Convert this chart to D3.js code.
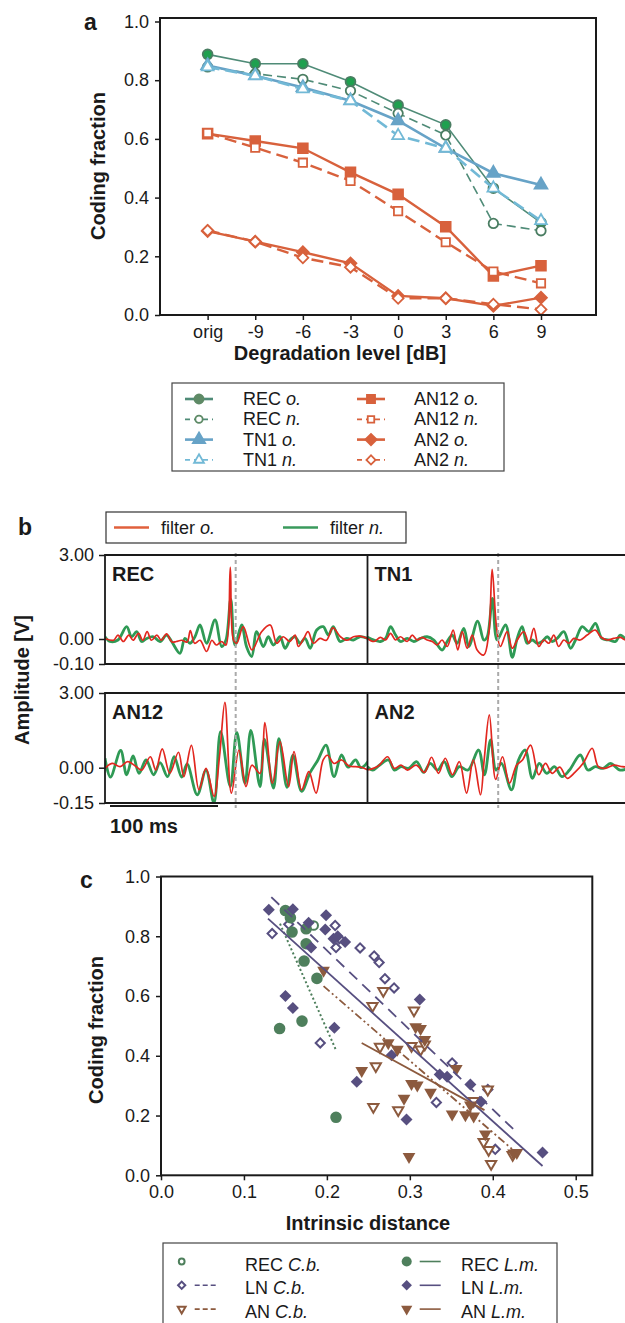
<!DOCTYPE html>
<html>
<head>
<meta charset="utf-8">
<script src="https://cdnjs.cloudflare.com/ajax/libs/d3/7.8.5/d3.min.js"></script>
<style>
  body { margin: 0; background: #fff; }
  svg { display: block; font-family: "Liberation Sans", Arial, sans-serif; }
  .axis text { font-size: 18px; fill: #1a1a1a; }
  .axis line { stroke: #1a1a1a; stroke-width: 1.5; }
  .axis path { display: none; }
  .lbl { font-weight: bold; fill: #1a1a1a; }
</style>
</head>
<body>
<svg id="fig" width="625" height="1323"></svg>
<script>
//---------------- data: panel a (coding fraction vs degradation level)
var levels = ['orig', '-9', '-6', '-3', '0', '3', '6', '9'];
var recOrig  = [0.888, 0.856, 0.856, 0.795, 0.715, 0.648, 0.432, 0.315];
var recNew   = [0.845, 0.822, 0.803, 0.764, 0.687, 0.613, 0.312, 0.287];
var tn1Orig  = [0.850, 0.815, 0.775, 0.730, 0.662, 0.568, 0.483, 0.443];
var tn1New   = [0.845, 0.815, 0.770, 0.730, 0.611, 0.568, 0.432, 0.321];
var an12Orig = [0.618, 0.593, 0.568, 0.486, 0.411, 0.301, 0.133, 0.168];
var an12New  = [0.620, 0.570, 0.519, 0.457, 0.354, 0.248, 0.148, 0.108];
var an2Orig  = [0.286, 0.250, 0.214, 0.176, 0.065, 0.057, 0.031, 0.059];
var an2New   = [0.288, 0.250, 0.195, 0.163, 0.057, 0.057, 0.037, 0.019];

//---------------- data: panel b (filters, [time ms, amplitude V])
var recFiltO = [[0,0.02],[8,-0.005],[12,0.14],[17,-0.01],[22,0.14],[26,-0.005],[31,0.2],[35,-0.005],[39,0.26],[43,-0.005],[48,0.14],[52,-0.005],[57,0.18],[62,-0.012],[66,-0.01],[71,-0.005],[76,-0.012],[79,0.3],[83,-0.017],[88,-0.005],[94,-0.05],[99,-0.005],[103,-0.024],[108,-0.01],[112,-0.024],[116,2.56],[119,-0.005],[122,-0.017],[128,0.44],[136,-0.044],[145,0.26],[153,0.5],[159,-0.017],[165,0.08],[171,-0.01],[176,0.14],[179,-0.03],[184,0.02],[188,0.26],[193,-0.017],[199,0.02],[205,-0.005],[211,0.4],[218,0.08],[224,-0.005],[230,0.08],[236,0.1],[243,0.02]];
var recFiltN = [[0,0.08],[4.6,-0.01],[12,-0.004],[20,0.44],[24.7,0.08],[29.3,0.26],[34,-0.01],[38.6,0.02],[44.8,0.08],[51,-0.01],[57,0.14],[61.7,-0.01],[69.4,-0.057],[74,0.02],[78.7,-0.017],[83.3,0.08],[88,0.5],[94,-0.017],[101.9,0.68],[108,-0.03],[112,-0.004],[116.4,1.42],[120.4,-0.024],[126.5,0.5],[131,-0.03],[135.8,-0.07],[140.4,0.26],[146.6,-0.03],[151.2,0.08],[155.9,-0.024],[162,0.08],[166.7,-0.037],[171.3,-0.004],[176,0.08],[180.6,-0.017],[185.2,0.02],[190,-0.037],[196,0.32],[202,0.44],[206.8,0.14],[211.4,0.44],[217.6,-0.01],[223.8,0.02],[230,-0.004],[236,0.08],[243.5,0.02]];
var tn1FiltO = [[0,0.02],[6,-0.01],[12,0.06],[16.7,-0.004],[21.3,0.2],[26,-0.004],[30.6,0.08],[36.7,-0.01],[41.4,0.14],[46,-0.004],[50.6,0.06],[55.2,-0.004],[60,-0.01],[64.5,-0.024],[69,-0.004],[73.8,-0.03],[79.3,0.32],[83.6,-0.044],[87.7,0.26],[92.3,-0.037],[97,0.14],[101.5,-0.044],[107.7,-0.064],[112.3,0.2],[115.4,2.49],[119.4,0.44],[123,-0.03],[129.3,0.26],[134,-0.037],[138.6,-0.004],[144.8,0.26],[149.4,-0.017],[154,0.38],[158.6,-0.03],[163.3,-0.004],[167.9,-0.017],[172.5,0.14],[177,-0.03],[181.8,-0.004],[186.4,-0.017],[191,0.02],[197,-0.004],[203.4,0.14],[211,0.32],[215.7,0.08],[222,-0.004],[228,0.02],[234,0.06],[239,-0.004],[243.5,0.02]];
var tn1FiltN = [[0,0.06],[6,-0.004],[12,-0.01],[16.7,0.02],[21.3,0.44],[26,0.14],[30.6,-0.01],[36.7,0.02],[42.9,-0.01],[49,0.02],[55.2,0.08],[61.4,-0.004],[69,-0.044],[73.8,-0.01],[78.4,0.14],[83,-0.017],[89.2,0.38],[93.8,-0.03],[102,0.64],[107.7,-0.004],[110.8,0.08],[115.7,1.45],[120,-0.004],[127.8,0.5],[134,-0.073],[138.6,0.02],[143.2,0.44],[147.8,-0.017],[152.5,-0.004],[157,-0.017],[161.7,-0.01],[166.4,0.08],[171,-0.01],[175.6,0.02],[181.8,0.26],[188,-0.037],[192.6,-0.004],[198.8,0.44],[205,0.26],[211,0.56],[217,0.02],[223.5,-0.004],[229.6,-0.01],[234,0.14],[239,0.02],[243.5,0.02]];
var an12FiltO = [[0,-0.003],[6.5,0.17],[14,0.04],[21,0.24],[29,0.04],[34,-0.01],[42,0.44],[47,-0.01],[53,0.76],[60,-0.024],[68,0.62],[73,-0.038],[80,0.9],[87,-0.094],[93.5,-0.003],[101,-0.122],[106,0.44],[111,2.62],[117,-0.108],[124,0.71],[130.5,-0.08],[136,0.1],[143.5,-0.024],[148,1.81],[155,-0.066],[162,1.05],[170,-0.08],[175,0.65],[182,-0.094],[188.7,-0.017],[195.4,-0.108],[202,0.31],[206,0.5],[212,0.17],[219,0.31],[226,0.07],[232,0.04],[238,0.01],[243.5,-0.01]];
var an12FiltN = [[0,0.38],[5,-0.04],[14.5,0.69],[20,-0.03],[26,0.47],[31.5,-0.024],[38,0.31],[45,-0.03],[51,0.2],[58,-0.038],[64,0.44],[71,-0.04],[76,0.15],[85.4,-0.115],[93.5,-0.01],[100.9,-0.15],[107,1.45],[116,-0.08],[122,1.42],[129.6,-0.066],[135,1.5],[143.5,-0.08],[147.6,1.14],[156,-0.087],[161,1.17],[168.5,-0.083],[174,0.5],[182,-0.1],[190,-0.02],[197,0.3],[204.6,0.91],[212,-0.038],[219,0.51],[225,0.02],[232,0.31],[237,0.0],[243.5,0.24]];
var an2FiltO = [[0,-0.01],[10,0.07],[18.6,0.44],[24.8,-0.003],[31,0.1],[37,-0.01],[45,0.1],[52.8,-0.02],[59.3,0.42],[65.7,-0.024],[72,0.38],[78.7,-0.03],[85,0.24],[91.7,-0.108],[98,0.31],[104.6,-0.115],[108,0.3],[112.8,2.12],[118.7,-0.05],[125,0.44],[131.4,-0.066],[138,0.1],[143.5,0.31],[151,0.91],[158.5,-0.03],[164.8,0.17],[171,-0.024],[178,0.02],[185,-0.045],[192,-0.02],[200,0.2],[208,0.78],[213.7,0.04],[220,-0.003],[228,0.1],[236,0.04],[243.5,0.02]];
var an2FiltN = [[0,0.04],[5,-0.01],[11,0.1],[19.4,0.31],[25,-0.01],[31,0.04],[38,-0.003],[45.4,0.24],[52,-0.02],[58,0.17],[65,-0.01],[71,0.24],[78,-0.038],[85,0.04],[93,-0.01],[102.8,0.71],[108.3,-0.03],[114,1.12],[119,-0.01],[124,0.17],[133.3,-0.094],[139.8,0.31],[146,0.71],[152.7,-0.045],[159,0.17],[166,-0.024],[173,0.04],[180,-0.038],[187,-0.01],[197,0.51],[204,-0.01],[211,0.04],[218,-0.003],[225,0.17],[234,-0.01],[243.5,0.02]];
var spikeTime = 121;   //dashed marker, ms from panel start

//---------------- data: panel c ([intrinsic distance, coding fraction])
var recLm = [[0.150,0.886],[0.156,0.862],[0.158,0.814],[0.175,0.825],[0.175,0.775],[0.1725,0.717],[0.188,0.659],[0.143,0.491],[0.170,0.516],[0.211,0.194]];
var recCb = [[0.184,0.836]];
var lnLm = [[0.130,0.889],[0.159,0.890],[0.178,0.845],[0.181,0.762],[0.199,0.870],[0.198,0.823],[0.208,0.792],[0.213,0.800],[0.222,0.781],[0.150,0.600],[0.159,0.560],[0.209,0.494],[0.236,0.313],[0.312,0.588],[0.278,0.402],[0.296,0.187],[0.336,0.337],[0.345,0.330],[0.373,0.304],[0.386,0.246],[0.460,0.076]];
var lnCb = [[0.134,0.809],[0.154,0.840],[0.192,0.443],[0.210,0.836],[0.215,0.792],[0.211,0.762],[0.240,0.761],[0.257,0.734],[0.263,0.712],[0.270,0.658],[0.281,0.627],[0.351,0.376],[0.332,0.244],[0.394,0.287],[0.403,0.087]];
var anLm = [[0.196,0.686],[0.242,0.350],[0.274,0.443],[0.285,0.421],[0.307,0.497],[0.313,0.491],[0.318,0.454],[0.302,0.307],[0.309,0.302],[0.325,0.277],[0.293,0.257],[0.351,0.205],[0.367,0.202],[0.377,0.198],[0.356,0.357],[0.373,0.235],[0.391,0.138],[0.425,0.074],[0.429,0.076],[0.299,0.062]];
var anCb = [[0.268,0.617],[0.255,0.567],[0.305,0.552],[0.264,0.430],[0.302,0.433],[0.313,0.421],[0.318,0.438],[0.259,0.365],[0.256,0.229],[0.286,0.218],[0.377,0.249],[0.394,0.287],[0.389,0.112],[0.395,0.085],[0.398,0.038],[0.424,0.068]];
//regression lines, two end points each
var fitRecLm = [[0.1435,0.842],[0.211,0.419]];
var fitLnLm  = [[0.129,0.859],[0.460,0.031]];
var fitLnCb  = [[0.133,0.931],[0.425,0.154]];
var fitAnLm  = [[0.242,0.443],[0.390,0.218]];
var fitAnCb  = [[0.196,0.633],[0.429,0.074]];

var svg = d3.select('#fig');
var INK = '#1a1a1a';

function symPath(type, size) {
    var t = {circle: d3.symbolCircle, square: d3.symbolSquare, triangle: d3.symbolTriangle,
             diamond: d3.symbolSquare, tridown: d3.symbolTriangle}[type];
    return d3.symbol().type(t).size(size)();
}
function symRot(type) {
    if (type === 'diamond') return ' rotate(45)';
    if (type === 'tridown') return ' rotate(180)';
    return '';
}
//draws a marker at x,y
function marker(g, type, x, y, size, fill, stroke, sw) {
    g.append('path')
        .attr('d', symPath(type, size))
        .attr('transform', 'translate(' + x + ',' + y + ')' + symRot(type))
        .attr('fill', fill)
        .attr('stroke', stroke)
        .attr('stroke-width', sw);
}
//label with an italic tail ("REC" + " o.")
function itText(g, x, y, plain, ital, size) {
    var t = g.append('text').attr('x', x).attr('y', y)
        .attr('font-size', size).attr('fill', INK);
    t.append('tspan').text(plain + ' ');
    t.append('tspan').attr('font-style', 'italic').text(ital);
    return t;
}

//================ panel a
var aG = svg.append('g');
var ax = d3.scaleLinear().domain([-1, 8.155]).range([160, 596]);
var ay = d3.scaleLinear().domain([0, 1]).range([315, 21.5]);

aG.append('g').attr('class', 'axis').attr('transform', 'translate(160,0)')
    .call(d3.axisLeft(ay).tickValues([0, 0.2, 0.4, 0.6, 0.8, 1.0]).tickFormat(d3.format('.1f')).tickSize(5).tickPadding(6));
aG.append('g').attr('class', 'axis').attr('transform', 'translate(0,315)')
    .call(d3.axisBottom(ax).tickValues(d3.range(levels.length)).tickFormat(function(i) { return levels[i]; }).tickSize(5).tickPadding(5));

var seriesA = [
    {name: 'REC',  tag: 'o.', vals: recOrig,  color: '#4f8b77', dash: null,   sym: 'circle',   size: 75, fill: '#1fa04f', w: 1.6},
    {name: 'REC',  tag: 'n.', vals: recNew,   color: '#4f8b77', dash: '9,5',  sym: 'circle',   size: 70, fill: '#fff',    w: 1.6},
    {name: 'TN1',  tag: 'o.', vals: tn1Orig,  color: '#67a3c7', dash: null,   sym: 'triangle', size: 70, fill: '#67a3c7', w: 2.6},
    {name: 'TN1',  tag: 'n.', vals: tn1New,   color: '#72b9d6', dash: '12,6', sym: 'triangle', size: 60, fill: '#fff',    w: 2.6},
    {name: 'AN12', tag: 'o.', vals: an12Orig, color: '#d8613c', dash: null,   sym: 'square',   size: 95, fill: '#d8613c', w: 2.4},
    {name: 'AN12', tag: 'n.', vals: an12New,  color: '#d8613c', dash: '12,6', sym: 'square',   size: 70, fill: '#fff',    w: 2.4},
    {name: 'AN2',  tag: 'o.', vals: an2Orig,  color: '#d8613c', dash: null,   sym: 'diamond',  size: 70, fill: '#d8613c', w: 2.4},
    {name: 'AN2',  tag: 'n.', vals: an2New,   color: '#d8613c', dash: '12,6', sym: 'diamond',  size: 60, fill: '#fff',    w: 2.4}
];
var lineA = d3.line().x(function(d, i) { return ax(i); }).y(function(d) { return ay(d); });

seriesA.forEach(function(s) {
    aG.append('path').attr('d', lineA(s.vals))
        .attr('fill', 'none').attr('stroke', s.color).attr('stroke-width', s.w)
        .attr('stroke-dasharray', s.dash);
    var stroke = (s.name === 'REC') ? '#4a7d62' : s.color;
    s.vals.forEach(function(v, i) {
        marker(aG, s.sym, ax(i), ay(v), s.size, s.fill, stroke, 1.8);
    });
});
aG.append('rect').attr('x', 160).attr('y', 18).attr('width', 436).attr('height', 297)
    .attr('fill', 'none').attr('stroke', INK).attr('stroke-width', 2);

aG.append('text').attr('class', 'lbl').attr('x', 84).attr('y', 30).attr('font-size', 23).text('a');
aG.append('text').attr('class', 'lbl').attr('font-size', 20).attr('text-anchor', 'middle')
    .attr('transform', 'translate(105,166) rotate(-90)').text('Coding fraction');
aG.append('text').attr('class', 'lbl').attr('font-size', 20).attr('text-anchor', 'middle')
    .attr('x', 340).attr('y', 360).text('Degradation level [dB]');

//legend a
var legA = svg.append('g');
legA.append('rect').attr('x', 172).attr('y', 383).attr('width', 332).attr('height', 88)
    .attr('fill', 'none').attr('stroke', '#444').attr('stroke-width', 1.2);
seriesA.forEach(function(s, k) {
    var col = k < 4 ? 0 : 1, row = k % 4;
    var x0 = col ? 357 : 185, y0 = 399 + row * 20.3;
    var isNew = s.tag === 'n.';
    legA.append('line').attr('x1', x0).attr('x2', x0 + 28).attr('y1', y0).attr('y2', y0)
        .attr('stroke', s.color).attr('stroke-width', isNew ? 1.8 : 2.6)
        .attr('stroke-dasharray', isNew ? '5,4' : null);
    var stroke = (s.name === 'REC') ? '#5e8a66' : s.color;
    var fill = isNew ? '#fff' : (s.name === 'REC' ? '#5e8a66' : s.color);
    marker(legA, s.sym, x0 + 14, y0, isNew ? 42 : 65, fill, stroke, 1.8);
    itText(legA, col ? 414 : 243, y0 + 6, s.name, s.tag, 18);
});

//================ panel b
var bG = svg.append('g');
var rows = [
    {top: 555, zero: 639,   bot: 664, low: -0.10},
    {top: 693, zero: 767.7, bot: 803, low: -0.15}
];
var panelsB = [
    {title: 'REC',  row: 0, col: 0, orig: recFiltO,  noise: recFiltN},
    {title: 'TN1',  row: 0, col: 1, orig: tn1FiltO,  noise: tn1FiltN},
    {title: 'AN12', row: 1, col: 0, orig: an12FiltO, noise: an12FiltN},
    {title: 'AN2',  row: 1, col: 1, orig: an2FiltO,  noise: an2FiltN}
];
var colX = [105, 367.5];
var pw = 263;   //panel width in px for 243.5 ms

svg.append('defs').selectAll('clipPath').data(panelsB).enter()
    .append('clipPath').attr('id', function(d, i) { return 'clipb' + i; })
    .append('rect')
    .attr('x', function(d) { return colX[d.col]; })
    .attr('y', function(d) { return rows[d.row].top; })
    .attr('width', pw)
    .attr('height', function(d) { return rows[d.row].bot - rows[d.row].top; });

rows.forEach(function(r) {
    r.y = d3.scaleLinear().domain([r.low, 0, 3]).range([r.bot, r.zero, r.top]);
    bG.append('g').attr('class', 'axis').attr('transform', 'translate(105,0)')
        .call(d3.axisLeft(r.y).tickValues([r.low, 0, 3]).tickFormat(function(d) { return d.toFixed(2); })
            .tickSize(6).tickPadding(5))
        .selectAll('text').attr('font-size', 19);
});

panelsB.forEach(function(p, i) {
    var r = rows[p.row];
    var x = d3.scaleLinear().domain([0, 243.5]).range([colX[p.col], colX[p.col] + pw]);
    var line = d3.line().curve(d3.curveCatmullRom.alpha(0.5))
        .x(function(d) { return x(d[0]); }).y(function(d) { return r.y(d[1]); });
    var g = bG.append('g').attr('clip-path', 'url(#clipb' + i + ')');
    g.append('path').attr('d', line(p.noise)).attr('fill', 'none')
        .attr('stroke', '#2f9a55').attr('stroke-width', 2.8).attr('stroke-linejoin', 'round');
    g.append('path').attr('d', line(p.orig)).attr('fill', 'none')
        .attr('stroke', '#e2271f').attr('stroke-width', 1.7).attr('stroke-linejoin', 'round');
    bG.append('text').attr('class', 'lbl').attr('font-size', 20)
        .attr('x', colX[p.col] + 7).attr('y', r.top + 26).text(p.title);
    p.x = x;
});

//dashed spike markers through both rows
[0, 1].forEach(function(c) {
    var sx = panelsB[c].x(spikeTime);
    bG.append('line').attr('x1', sx).attr('x2', sx).attr('y1', 553).attr('y2', 808)
        .attr('stroke', '#aaa').attr('stroke-width', 2).attr('stroke-dasharray', '4,3');
});

//boxes
rows.forEach(function(r) {
    bG.append('path')
        .attr('d', 'M630,' + r.top + 'H105V' + r.bot + 'H630 M367.5,' + r.top + 'V' + r.bot)
        .attr('fill', 'none').attr('stroke', INK).attr('stroke-width', 1.8);
});

//scale bar
var sbx = panelsB[2].x;
bG.append('line').attr('x1', 110).attr('x2', 110 + sbx(100) - sbx(0)).attr('y1', 806).attr('y2', 806)
    .attr('stroke', INK).attr('stroke-width', 2);
bG.append('text').attr('class', 'lbl').attr('font-size', 20).attr('x', 110).attr('y', 833).text('100 ms');

bG.append('text').attr('class', 'lbl').attr('x', 18).attr('y', 535).attr('font-size', 23).text('b');
bG.append('text').attr('class', 'lbl').attr('font-size', 20).attr('text-anchor', 'middle')
    .attr('transform', 'translate(29,680) rotate(-90)').text('Amplitude [V]');

//legend b
bG.append('rect').attr('x', 106).attr('y', 512).attr('width', 300).attr('height', 31)
    .attr('fill', 'none').attr('stroke', '#333').attr('stroke-width', 1.2);
bG.append('line').attr('x1', 114).attr('x2', 149).attr('y1', 527.5).attr('y2', 527.5)
    .attr('stroke', '#e0603c').attr('stroke-width', 2.4);
itText(bG, 161, 534, 'filter', 'o.', 18);
bG.append('line').attr('x1', 283).attr('x2', 318).attr('y1', 527.5).attr('y2', 527.5)
    .attr('stroke', '#3a9a5c').attr('stroke-width', 2.4);
itText(bG, 330, 534, 'filter', 'n.', 18);

//================ panel c
var cG = svg.append('g');
var cx = d3.scaleLinear().domain([0, 0.52]).range([161, 592.3]);
var cy = d3.scaleLinear().domain([0, 1]).range([1175.3, 876.5]);

cG.append('g').attr('class', 'axis').attr('transform', 'translate(161,0)')
    .call(d3.axisLeft(cy).tickValues([0, 0.2, 0.4, 0.6, 0.8, 1.0]).tickFormat(d3.format('.1f')).tickSize(5).tickPadding(6));
cG.append('g').attr('class', 'axis').attr('transform', 'translate(0,1175.3)')
    .call(d3.axisBottom(cx).tickValues([0, 0.1, 0.2, 0.3, 0.4, 0.5]).tickFormat(d3.format('.1f')).tickSize(5).tickPadding(5));

var GREEN = '#4e7f5c', PURPLE = '#574f80', BROWN = '#8c5a3e';
var lineC = d3.line().x(function(d) { return cx(d[0]); }).y(function(d) { return cy(d[1]); });
var fits = [
    {pts: fitRecLm, color: GREEN,  dash: '2,2.5', w: 2},
    {pts: fitLnCb,  color: PURPLE, dash: '11,7',  w: 1.8},
    {pts: fitLnLm,  color: PURPLE, dash: null,    w: 1.8},
    {pts: fitAnCb,  color: BROWN,  dash: '8,3,2,3,2,3', w: 1.8},
    {pts: fitAnLm,  color: BROWN,  dash: null,    w: 1.8}
];
var groupsC = [
    {pts: lnCb,  sym: 'diamond', size: 42, color: PURPLE, open: true},
    {pts: anCb,  sym: 'tridown', size: 45, color: BROWN,  open: true},
    {pts: recCb, sym: 'circle',  size: 60, color: GREEN,  open: true},
    {pts: recLm, sym: 'circle',  size: 105, color: GREEN, open: false},
    {pts: lnLm,  sym: 'diamond', size: 72, color: PURPLE, open: false},
    {pts: anLm,  sym: 'tridown', size: 70, color: BROWN,  open: false}
];
groupsC.forEach(function(gr) {
    gr.pts.forEach(function(d) {
        marker(cG, gr.sym, cx(d[0]), cy(d[1]), gr.size, gr.open ? '#fff' : gr.color, gr.color, gr.open ? 2 : 0);
    });
});
fits.forEach(function(f) {
    cG.append('path').attr('d', lineC(f.pts)).attr('fill', 'none')
        .attr('stroke', f.color).attr('stroke-width', f.w).attr('stroke-dasharray', f.dash);
});
cG.append('rect').attr('x', 161).attr('y', 876.5).attr('width', 431.3).attr('height', 298.8)
    .attr('fill', 'none').attr('stroke', INK).attr('stroke-width', 2);

cG.append('text').attr('class', 'lbl').attr('x', 80).attr('y', 888).attr('font-size', 23).text('c');
cG.append('text').attr('class', 'lbl').attr('font-size', 20).attr('text-anchor', 'middle')
    .attr('transform', 'translate(103,1030) rotate(-90)').text('Coding fraction');
cG.append('text').attr('class', 'lbl').attr('font-size', 20).attr('text-anchor', 'middle')
    .attr('x', 368).attr('y', 1230).text('Intrinsic distance');

//legend c
var legC = svg.append('g');
legC.append('rect').attr('x', 163).attr('y', 1243).attr('width', 394).attr('height', 100)
    .attr('fill', 'none').attr('stroke', '#444').attr('stroke-width', 1.2);
var legItemsC = [
    {name: 'REC', tag: 'C.b.', sym: 'circle',  color: GREEN,  open: true,  line: 'none'},
    {name: 'LN',  tag: 'C.b.', sym: 'diamond', color: PURPLE, open: true,  line: 'dash'},
    {name: 'AN',  tag: 'C.b.', sym: 'tridown', color: BROWN,  open: true,  line: 'dash'},
    {name: 'REC', tag: 'L.m.', sym: 'circle',  color: GREEN,  open: false, line: 'solid'},
    {name: 'LN',  tag: 'L.m.', sym: 'diamond', color: PURPLE, open: false, line: 'solid'},
    {name: 'AN',  tag: 'L.m.', sym: 'tridown', color: BROWN,  open: false, line: 'solid'}
];
legItemsC.forEach(function(it, k) {
    var col = k < 3 ? 0 : 1, row = k % 3;
    var mx = col ? 406.7 : 181.7, y0 = 1261.5 + row * 23.8;
    var size = it.open ? 26 : (it.sym === 'circle' ? 80 : 55);
    marker(legC, it.sym, mx, y0, size, it.open ? '#fff' : it.color, it.color, it.open ? 2 : 0);
    if (it.line !== 'none') {
        legC.append('line').attr('x1', mx + 13).attr('x2', mx + 34).attr('y1', y0).attr('y2', y0)
            .attr('stroke', it.color).attr('stroke-width', 1.6)
            .attr('stroke-dasharray', it.line === 'dash' ? '5,3' : null);
    }
    itText(legC, col ? 461 : 245, y0 + 9, it.name, it.tag, 18);
});
</script>
</body>
</html>
